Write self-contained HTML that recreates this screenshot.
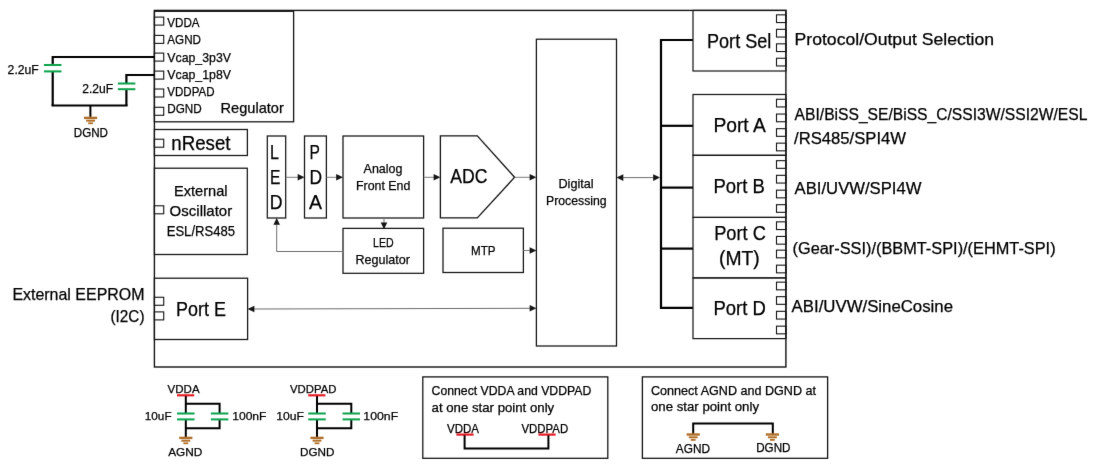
<!DOCTYPE html>
<html lang="en">
<head>
<meta charset="utf-8">
<title>Encoder IC block diagram</title>
<style>
html, body { margin: 0; padding: 0; background: #ffffff; }
body { width: 1100px; height: 470px; overflow: hidden; }
svg { display: block; font-family: 'Liberation Sans', Arial, sans-serif; }
svg text { font-family: 'Liberation Sans', Arial, sans-serif; }
</style>
</head>
<body>
<svg width="1100" height="470" viewBox="0 0 1100 470" role="img" aria-label="Encoder IC block diagram">
<defs><filter id="soft" x="0" y="0" width="1100" height="470" filterUnits="userSpaceOnUse"><feConvolveMatrix order="3" kernelMatrix="0 1 0 1 12 1 0 1 0" divisor="16" edgeMode="duplicate" preserveAlpha="false"/></filter></defs>
<rect x="0" y="0" width="1100" height="470" fill="#ffffff"/>
<g filter="url(#soft)">
<rect x="154.4" y="10.4" width="631.5" height="356.6" fill="none" stroke="#141414" stroke-width="1.4"/>
<rect x="154.4" y="11.3" width="139.2" height="110.5" fill="none" stroke="#141414" stroke-width="1.3"/>
<rect x="154.4" y="17.1" width="9.3" height="8.0" fill="none" stroke="#141414" stroke-width="1.1"/>
<rect x="154.4" y="35.4" width="9.3" height="8.0" fill="none" stroke="#141414" stroke-width="1.1"/>
<rect x="154.4" y="53.1" width="9.3" height="8.0" fill="none" stroke="#141414" stroke-width="1.1"/>
<rect x="154.4" y="71.1" width="9.3" height="8.0" fill="none" stroke="#141414" stroke-width="1.1"/>
<rect x="154.4" y="89.0" width="9.3" height="8.0" fill="none" stroke="#141414" stroke-width="1.1"/>
<rect x="154.4" y="107.3" width="9.3" height="8.0" fill="none" stroke="#141414" stroke-width="1.1"/>
<text x="167.3" y="27.2" font-size="13.0" textLength="32.3" lengthAdjust="spacingAndGlyphs" fill="#000" stroke="#000" stroke-width="0.25">VDDA</text>
<text x="167.3" y="44.4" font-size="13.0" textLength="33.7" lengthAdjust="spacingAndGlyphs" fill="#000" stroke="#000" stroke-width="0.25">AGND</text>
<text x="167.3" y="61.5" font-size="13.0" textLength="63.7" lengthAdjust="spacingAndGlyphs" fill="#000" stroke="#000" stroke-width="0.25">Vcap_3p3V</text>
<text x="167.3" y="78.5" font-size="13.0" textLength="63.7" lengthAdjust="spacingAndGlyphs" fill="#000" stroke="#000" stroke-width="0.25">Vcap_1p8V</text>
<text x="167.3" y="95.7" font-size="13.0" textLength="47.2" lengthAdjust="spacingAndGlyphs" fill="#000" stroke="#000" stroke-width="0.25">VDDPAD</text>
<text x="167.3" y="112.7" font-size="13.0" textLength="34.5" lengthAdjust="spacingAndGlyphs" fill="#000" stroke="#000" stroke-width="0.25">DGND</text>
<text x="220.6" y="113.1" font-size="14.4" textLength="63.2" lengthAdjust="spacingAndGlyphs" fill="#000" stroke="#000" stroke-width="0.25">Regulator</text>
<polyline points="154.4,57.0 52.7,57.0 52.7,65.0" fill="none" stroke="#000" stroke-width="2.2" stroke-linejoin="miter"/>
<line x1="52.7" y1="71.5" x2="52.7" y2="105.5" stroke="#000" stroke-width="2.2" stroke-linecap="butt"/>
<polyline points="154.4,75.0 126.4,75.0 126.4,83.4" fill="none" stroke="#000" stroke-width="2.2" stroke-linejoin="miter"/>
<line x1="126.4" y1="89.3" x2="126.4" y2="105.5" stroke="#000" stroke-width="2.2" stroke-linecap="butt"/>
<line x1="51.5" y1="105.5" x2="127.6" y2="105.5" stroke="#000" stroke-width="2.2" stroke-linecap="butt"/>
<line x1="90.4" y1="105.5" x2="90.4" y2="117.4" stroke="#000" stroke-width="2.0" stroke-linecap="butt"/>
<line x1="43.95" y1="65.0" x2="61.45" y2="65.0" stroke="#0aa14b" stroke-width="2.0" stroke-linecap="butt"/>
<line x1="43.95" y1="71.4" x2="61.45" y2="71.4" stroke="#0aa14b" stroke-width="2.0" stroke-linecap="butt"/>
<line x1="117.85" y1="83.5" x2="135.35" y2="83.5" stroke="#0aa14b" stroke-width="2.0" stroke-linecap="butt"/>
<line x1="117.85" y1="89.2" x2="135.35" y2="89.2" stroke="#0aa14b" stroke-width="2.0" stroke-linecap="butt"/>
<line x1="84.0" y1="117.89999999999999" x2="97.19999999999999" y2="117.89999999999999" stroke="#b0702c" stroke-width="2.4" stroke-linecap="butt"/>
<line x1="86.19999999999999" y1="120.69999999999999" x2="95.0" y2="120.69999999999999" stroke="#b0702c" stroke-width="2.0" stroke-linecap="butt"/>
<line x1="88.19999999999999" y1="123.3" x2="93.0" y2="123.3" stroke="#b0702c" stroke-width="1.8" stroke-linecap="butt"/>
<text x="7.6" y="74.1" font-size="12.6" textLength="31.2" lengthAdjust="spacingAndGlyphs" fill="#000" stroke="#000" stroke-width="0.25">2.2uF</text>
<text x="82.2" y="93.2" font-size="12.6" textLength="31.0" lengthAdjust="spacingAndGlyphs" fill="#000" stroke="#000" stroke-width="0.25">2.2uF</text>
<text x="73.8" y="136.5" font-size="12.0" textLength="34.2" lengthAdjust="spacingAndGlyphs" fill="#000" stroke="#000" stroke-width="0.25">DGND</text>
<rect x="154.4" y="129.5" width="93.0" height="26.0" fill="none" stroke="#141414" stroke-width="1.25"/>
<rect x="154.4" y="139.2" width="9.3" height="8.0" fill="none" stroke="#141414" stroke-width="1.1"/>
<text x="171.3" y="150.0" font-size="19.8" textLength="59.2" lengthAdjust="spacingAndGlyphs" fill="#000" stroke="#000" stroke-width="0.25">nReset</text>
<rect x="154.4" y="168.2" width="92.9" height="86.3" fill="none" stroke="#141414" stroke-width="1.25"/>
<rect x="154.4" y="205.8" width="9.3" height="8.0" fill="none" stroke="#141414" stroke-width="1.1"/>
<text x="174.0" y="195.6" font-size="14.8" textLength="53.6" lengthAdjust="spacingAndGlyphs" fill="#000" stroke="#000" stroke-width="0.25">External</text>
<text x="169.6" y="215.6" font-size="14.8" textLength="62.6" lengthAdjust="spacingAndGlyphs" fill="#000" stroke="#000" stroke-width="0.25">Oscillator</text>
<text x="166.7" y="235.5" font-size="14.8" textLength="68.3" lengthAdjust="spacingAndGlyphs" fill="#000" stroke="#000" stroke-width="0.25">ESL/RS485</text>
<rect x="154.4" y="278.2" width="93.2" height="61.3" fill="none" stroke="#141414" stroke-width="1.25"/>
<rect x="154.4" y="297.3" width="9.3" height="8.0" fill="none" stroke="#141414" stroke-width="1.1"/>
<rect x="154.4" y="311.9" width="9.3" height="8.0" fill="none" stroke="#141414" stroke-width="1.1"/>
<text x="176.1" y="315.9" font-size="19.5" textLength="49.8" lengthAdjust="spacingAndGlyphs" fill="#000" stroke="#000" stroke-width="0.25">Port E</text>
<text x="12.4" y="299.6" font-size="16.6" textLength="132.1" lengthAdjust="spacingAndGlyphs" fill="#000" stroke="#000" stroke-width="0.25">External EEPROM</text>
<text x="110.5" y="322.4" font-size="16.6" textLength="34.0" lengthAdjust="spacingAndGlyphs" fill="#000" stroke="#000" stroke-width="0.25">(I2C)</text>
<rect x="267.3" y="136.0" width="18.4" height="82.0" fill="none" stroke="#141414" stroke-width="1.25"/>
<rect x="304.5" y="136.0" width="21.9" height="82.0" fill="none" stroke="#141414" stroke-width="1.25"/>
<text x="270.0" y="158.5" font-size="19.6" textLength="8.9" lengthAdjust="spacingAndGlyphs" fill="#000" stroke="#000" stroke-width="0.25">L</text>
<text x="270.0" y="184.0" font-size="19.6" textLength="10.4" lengthAdjust="spacingAndGlyphs" fill="#000" stroke="#000" stroke-width="0.25">E</text>
<text x="269.8" y="209.2" font-size="19.6" textLength="12.8" lengthAdjust="spacingAndGlyphs" fill="#000" stroke="#000" stroke-width="0.25">D</text>
<text x="309.6" y="158.5" font-size="19.6" textLength="10.4" lengthAdjust="spacingAndGlyphs" fill="#000" stroke="#000" stroke-width="0.25">P</text>
<text x="309.4" y="184.0" font-size="19.6" textLength="12.6" lengthAdjust="spacingAndGlyphs" fill="#000" stroke="#000" stroke-width="0.25">D</text>
<text x="309.0" y="209.2" font-size="19.6" textLength="13.0" lengthAdjust="spacingAndGlyphs" fill="#000" stroke="#000" stroke-width="0.25">A</text>
<rect x="343.0" y="136.0" width="80.6" height="82.0" fill="none" stroke="#141414" stroke-width="1.25"/>
<text x="363.6" y="173.3" font-size="13.4" textLength="38.8" lengthAdjust="spacingAndGlyphs" fill="#000" stroke="#000" stroke-width="0.25">Analog</text>
<text x="356.0" y="190.2" font-size="13.4" textLength="54.4" lengthAdjust="spacingAndGlyphs" fill="#000" stroke="#000" stroke-width="0.25">Front End</text>
<rect x="343.0" y="228.4" width="80.6" height="44.9" fill="none" stroke="#141414" stroke-width="1.25"/>
<text x="373.0" y="247.0" font-size="13.4" textLength="20.6" lengthAdjust="spacingAndGlyphs" fill="#000" stroke="#000" stroke-width="0.25">LED</text>
<text x="355.5" y="263.8" font-size="13.4" textLength="54.5" lengthAdjust="spacingAndGlyphs" fill="#000" stroke="#000" stroke-width="0.25">Regulator</text>
<polyline points="440.4,135.8 477.3,135.8 514.6,177.3 477.3,217.9 440.4,217.9 440.4,135.8 477.3,135.8" fill="none" stroke="#141414" stroke-width="1.3" stroke-linejoin="miter"/>
<text x="450.2" y="183.0" font-size="19.6" textLength="37.2" lengthAdjust="spacingAndGlyphs" fill="#000" stroke="#000" stroke-width="0.25">ADC</text>
<rect x="443.0" y="228.2" width="80.4" height="44.3" fill="none" stroke="#141414" stroke-width="1.25"/>
<text x="471.0" y="255.0" font-size="13.4" textLength="24.5" lengthAdjust="spacingAndGlyphs" fill="#000" stroke="#000" stroke-width="0.25">MTP</text>
<rect x="536.4" y="39.2" width="80.1" height="306.8" fill="none" stroke="#141414" stroke-width="1.25"/>
<text x="558.5" y="188.2" font-size="13.4" textLength="35.1" lengthAdjust="spacingAndGlyphs" fill="#000" stroke="#000" stroke-width="0.25">Digital</text>
<text x="546.0" y="204.9" font-size="13.4" textLength="60.7" lengthAdjust="spacingAndGlyphs" fill="#000" stroke="#000" stroke-width="0.25">Processing</text>
<line x1="285.7" y1="177.3" x2="298.7" y2="177.3" stroke="#6e6e6e" stroke-width="0.9" stroke-linecap="butt"/>
<polygon points="304.5,177.3 297.7,174.0 297.7,180.60000000000002" fill="#141414"/>
<line x1="326.4" y1="177.3" x2="337.2" y2="177.3" stroke="#6e6e6e" stroke-width="0.9" stroke-linecap="butt"/>
<polygon points="343.0,177.3 336.2,174.0 336.2,180.60000000000002" fill="#141414"/>
<line x1="423.6" y1="177.3" x2="434.59999999999997" y2="177.3" stroke="#6e6e6e" stroke-width="0.9" stroke-linecap="butt"/>
<polygon points="440.4,177.3 433.59999999999997,174.0 433.59999999999997,180.60000000000002" fill="#141414"/>
<line x1="514.6" y1="177.3" x2="530.6" y2="177.3" stroke="#6e6e6e" stroke-width="0.9" stroke-linecap="butt"/>
<polygon points="536.4,177.3 529.6,174.0 529.6,180.60000000000002" fill="#141414"/>
<line x1="523.4" y1="250.5" x2="530.6" y2="250.5" stroke="#6e6e6e" stroke-width="0.9" stroke-linecap="butt"/>
<polygon points="536.4,250.5 529.6,247.2 529.6,253.8" fill="#141414"/>
<line x1="384.0" y1="218.0" x2="384.0" y2="223.0" stroke="#6e6e6e" stroke-width="1" stroke-linecap="butt"/>
<polygon points="384.0,229.2 380.7,222.39999999999998 387.3,222.39999999999998" fill="#141414"/>
<polyline points="343.0,251.5 276.7,251.5 276.7,224.0" fill="none" stroke="#6e6e6e" stroke-width="1" stroke-linejoin="miter"/>
<polygon points="276.7,218.0 273.4,224.8 280.0,224.8" fill="#141414"/>
<line x1="253.0" y1="309.0" x2="531.0" y2="308.3" stroke="#6e6e6e" stroke-width="1" stroke-linecap="butt"/>
<polygon points="247.6,309.0 254.4,305.7 254.4,312.3" fill="#141414"/>
<polygon points="536.4,308.3 529.6,305.0 529.6,311.6" fill="#141414"/>
<line x1="622.0" y1="177.6" x2="655.0" y2="177.6" stroke="#6e6e6e" stroke-width="1" stroke-linecap="butt"/>
<polygon points="616.5,177.6 623.3,174.29999999999998 623.3,180.9" fill="#141414"/>
<polygon points="660.0,177.6 653.2,174.29999999999998 653.2,180.9" fill="#141414"/>
<polyline points="693.0,40.0 661.0,40.0 661.0,307.8 693.0,307.8" fill="none" stroke="#000" stroke-width="2.2" stroke-linejoin="miter"/>
<line x1="661.0" y1="125.8" x2="693.0" y2="125.8" stroke="#000" stroke-width="2.2" stroke-linecap="butt"/>
<line x1="661.0" y1="187.6" x2="693.0" y2="187.6" stroke="#000" stroke-width="2.2" stroke-linecap="butt"/>
<line x1="661.0" y1="248.6" x2="693.0" y2="248.6" stroke="#000" stroke-width="2.2" stroke-linecap="butt"/>
<rect x="693.0" y="10.4" width="92.9" height="60.6" fill="none" stroke="#141414" stroke-width="1.2"/>
<rect x="693.0" y="94.5" width="92.9" height="60.8" fill="none" stroke="#141414" stroke-width="1.2"/>
<rect x="693.0" y="155.3" width="92.9" height="62.1" fill="none" stroke="#141414" stroke-width="1.2"/>
<rect x="693.0" y="217.4" width="92.9" height="60.5" fill="none" stroke="#141414" stroke-width="1.2"/>
<rect x="693.0" y="277.9" width="92.9" height="60.7" fill="none" stroke="#141414" stroke-width="1.2"/>
<rect x="776.5" y="14.85" width="9.4" height="7.7" fill="none" stroke="#141414" stroke-width="1.1"/>
<rect x="776.5" y="29.35" width="9.4" height="7.7" fill="none" stroke="#141414" stroke-width="1.1"/>
<rect x="776.5" y="43.85" width="9.4" height="7.7" fill="none" stroke="#141414" stroke-width="1.1"/>
<rect x="776.5" y="58.25" width="9.4" height="7.7" fill="none" stroke="#141414" stroke-width="1.1"/>
<rect x="776.5" y="99.25" width="9.4" height="7.7" fill="none" stroke="#141414" stroke-width="1.1"/>
<rect x="776.5" y="114.05000000000001" width="9.4" height="7.7" fill="none" stroke="#141414" stroke-width="1.1"/>
<rect x="776.5" y="128.65" width="9.4" height="7.7" fill="none" stroke="#141414" stroke-width="1.1"/>
<rect x="776.5" y="143.15" width="9.4" height="7.7" fill="none" stroke="#141414" stroke-width="1.1"/>
<rect x="776.5" y="160.65" width="9.4" height="7.7" fill="none" stroke="#141414" stroke-width="1.1"/>
<rect x="776.5" y="175.35" width="9.4" height="7.7" fill="none" stroke="#141414" stroke-width="1.1"/>
<rect x="776.5" y="190.15" width="9.4" height="7.7" fill="none" stroke="#141414" stroke-width="1.1"/>
<rect x="776.5" y="204.65" width="9.4" height="7.7" fill="none" stroke="#141414" stroke-width="1.1"/>
<rect x="776.5" y="221.85" width="9.4" height="7.7" fill="none" stroke="#141414" stroke-width="1.1"/>
<rect x="776.5" y="236.45000000000002" width="9.4" height="7.7" fill="none" stroke="#141414" stroke-width="1.1"/>
<rect x="776.5" y="250.15" width="9.4" height="7.7" fill="none" stroke="#141414" stroke-width="1.1"/>
<rect x="776.5" y="265.15" width="9.4" height="7.7" fill="none" stroke="#141414" stroke-width="1.1"/>
<rect x="776.5" y="282.15" width="9.4" height="7.7" fill="none" stroke="#141414" stroke-width="1.1"/>
<rect x="776.5" y="296.65" width="9.4" height="7.7" fill="none" stroke="#141414" stroke-width="1.1"/>
<rect x="776.5" y="311.34999999999997" width="9.4" height="7.7" fill="none" stroke="#141414" stroke-width="1.1"/>
<rect x="776.5" y="326.15" width="9.4" height="7.7" fill="none" stroke="#141414" stroke-width="1.1"/>
<text x="707.0" y="47.8" font-size="19.6" textLength="64.3" lengthAdjust="spacingAndGlyphs" fill="#000" stroke="#000" stroke-width="0.25">Port Sel</text>
<text x="713.4" y="132.3" font-size="19.5" textLength="52.4" lengthAdjust="spacingAndGlyphs" fill="#000" stroke="#000" stroke-width="0.25">Port A</text>
<text x="713.4" y="193.3" font-size="19.5" textLength="51.4" lengthAdjust="spacingAndGlyphs" fill="#000" stroke="#000" stroke-width="0.25">Port B</text>
<text x="714.2" y="240.2" font-size="19.5" textLength="51.6" lengthAdjust="spacingAndGlyphs" fill="#000" stroke="#000" stroke-width="0.25">Port C</text>
<text x="719.0" y="265.0" font-size="19.5" textLength="40.8" lengthAdjust="spacingAndGlyphs" fill="#000" stroke="#000" stroke-width="0.25">(MT)</text>
<text x="713.4" y="315.0" font-size="19.5" textLength="52.4" lengthAdjust="spacingAndGlyphs" fill="#000" stroke="#000" stroke-width="0.25">Port D</text>
<text x="794.6" y="44.6" font-size="15.9" textLength="199.5" lengthAdjust="spacingAndGlyphs" fill="#000" stroke="#000" stroke-width="0.25">Protocol/Output Selection</text>
<text x="794.6" y="120.4" font-size="16.0" textLength="292.8" lengthAdjust="spacingAndGlyphs" fill="#000" stroke="#000" stroke-width="0.25">ABI/BiSS_SE/BiSS_C/SSI3W/SSI2W/ESL</text>
<text x="794.0" y="143.7" font-size="16.0" textLength="112.0" lengthAdjust="spacingAndGlyphs" fill="#000" stroke="#000" stroke-width="0.25">/RS485/SPI4W</text>
<text x="794.6" y="194.1" font-size="16.0" textLength="126.9" lengthAdjust="spacingAndGlyphs" fill="#000" stroke="#000" stroke-width="0.25">ABI/UVW/SPI4W</text>
<text x="792.5" y="254.0" font-size="16.0" textLength="263.1" lengthAdjust="spacingAndGlyphs" fill="#000" stroke="#000" stroke-width="0.25">(Gear-SSI)/(BBMT-SPI)/(EHMT-SPI)</text>
<text x="791.6" y="311.6" font-size="16.0" textLength="161.4" lengthAdjust="spacingAndGlyphs" fill="#000" stroke="#000" stroke-width="0.25">ABI/UVW/SineCosine</text>
<line x1="177.00000000000003" y1="395.3" x2="194.20000000000002" y2="395.3" stroke="#e61e28" stroke-width="2.2" stroke-linecap="butt"/>
<line x1="185.8" y1="396.0" x2="185.8" y2="413.0" stroke="#000" stroke-width="2.0" stroke-linecap="butt"/>
<line x1="185.8" y1="420.0" x2="185.8" y2="437.4" stroke="#000" stroke-width="2.0" stroke-linecap="butt"/>
<polyline points="185.8,403.7 219.6,403.7 219.6,413.0" fill="none" stroke="#000" stroke-width="2.0" stroke-linejoin="miter"/>
<polyline points="185.8,428.2 219.6,428.2 219.6,420.0" fill="none" stroke="#000" stroke-width="2.0" stroke-linejoin="miter"/>
<line x1="177.05" y1="413.5" x2="194.55" y2="413.5" stroke="#0aa14b" stroke-width="2.0" stroke-linecap="butt"/>
<line x1="177.05" y1="419.4" x2="194.55" y2="419.4" stroke="#0aa14b" stroke-width="2.0" stroke-linecap="butt"/>
<line x1="210.85" y1="413.5" x2="228.35" y2="413.5" stroke="#0aa14b" stroke-width="2.0" stroke-linecap="butt"/>
<line x1="210.85" y1="419.4" x2="228.35" y2="419.4" stroke="#0aa14b" stroke-width="2.0" stroke-linecap="butt"/>
<line x1="179.20000000000002" y1="437.90000000000003" x2="192.4" y2="437.90000000000003" stroke="#b0702c" stroke-width="2.4" stroke-linecap="butt"/>
<line x1="181.4" y1="440.70000000000005" x2="190.20000000000002" y2="440.70000000000005" stroke="#b0702c" stroke-width="2.0" stroke-linecap="butt"/>
<line x1="183.4" y1="443.3" x2="188.20000000000002" y2="443.3" stroke="#b0702c" stroke-width="1.8" stroke-linecap="butt"/>
<text x="167.6" y="393.4" font-size="11.8" textLength="32.0" lengthAdjust="spacingAndGlyphs" fill="#000" stroke="#000" stroke-width="0.25">VDDA</text>
<text x="168.2" y="455.5" font-size="11.8" textLength="34.2" lengthAdjust="spacingAndGlyphs" fill="#000" stroke="#000" stroke-width="0.25">AGND</text>
<text x="144.8" y="419.5" font-size="11.8" textLength="26.8" lengthAdjust="spacingAndGlyphs" fill="#000" stroke="#000" stroke-width="0.25">10uF</text>
<text x="232.2" y="419.5" font-size="11.8" textLength="34.3" lengthAdjust="spacingAndGlyphs" fill="#000" stroke="#000" stroke-width="0.25">100nF</text>
<line x1="308.2" y1="395.3" x2="325.40000000000003" y2="395.3" stroke="#e61e28" stroke-width="2.2" stroke-linecap="butt"/>
<line x1="317.0" y1="396.0" x2="317.0" y2="413.0" stroke="#000" stroke-width="2.0" stroke-linecap="butt"/>
<line x1="317.0" y1="420.0" x2="317.0" y2="437.4" stroke="#000" stroke-width="2.0" stroke-linecap="butt"/>
<polyline points="317.0,403.7 351.3,403.7 351.3,413.0" fill="none" stroke="#000" stroke-width="2.0" stroke-linejoin="miter"/>
<polyline points="317.0,428.2 351.3,428.2 351.3,420.0" fill="none" stroke="#000" stroke-width="2.0" stroke-linejoin="miter"/>
<line x1="308.25" y1="413.5" x2="325.75" y2="413.5" stroke="#0aa14b" stroke-width="2.0" stroke-linecap="butt"/>
<line x1="308.25" y1="419.4" x2="325.75" y2="419.4" stroke="#0aa14b" stroke-width="2.0" stroke-linecap="butt"/>
<line x1="342.55" y1="413.5" x2="360.05" y2="413.5" stroke="#0aa14b" stroke-width="2.0" stroke-linecap="butt"/>
<line x1="342.55" y1="419.4" x2="360.05" y2="419.4" stroke="#0aa14b" stroke-width="2.0" stroke-linecap="butt"/>
<line x1="310.4" y1="437.90000000000003" x2="323.6" y2="437.90000000000003" stroke="#b0702c" stroke-width="2.4" stroke-linecap="butt"/>
<line x1="312.6" y1="440.70000000000005" x2="321.4" y2="440.70000000000005" stroke="#b0702c" stroke-width="2.0" stroke-linecap="butt"/>
<line x1="314.6" y1="443.3" x2="319.4" y2="443.3" stroke="#b0702c" stroke-width="1.8" stroke-linecap="butt"/>
<text x="290.0" y="393.4" font-size="11.8" textLength="46.4" lengthAdjust="spacingAndGlyphs" fill="#000" stroke="#000" stroke-width="0.25">VDDPAD</text>
<text x="300.0" y="455.5" font-size="11.8" textLength="34.4" lengthAdjust="spacingAndGlyphs" fill="#000" stroke="#000" stroke-width="0.25">DGND</text>
<text x="276.3" y="419.5" font-size="11.8" textLength="27.7" lengthAdjust="spacingAndGlyphs" fill="#000" stroke="#000" stroke-width="0.25">10uF</text>
<text x="363.3" y="419.5" font-size="11.8" textLength="34.9" lengthAdjust="spacingAndGlyphs" fill="#000" stroke="#000" stroke-width="0.25">100nF</text>
<rect x="422.8" y="376.9" width="185.0" height="81.4" fill="none" stroke="#141414" stroke-width="1.3"/>
<text x="431.6" y="394.5" font-size="12.1" textLength="159.7" lengthAdjust="spacingAndGlyphs" fill="#000" stroke="#000" stroke-width="0.25">Connect VDDA and VDDPAD</text>
<text x="431.6" y="411.5" font-size="12.1" textLength="122.6" lengthAdjust="spacingAndGlyphs" fill="#000" stroke="#000" stroke-width="0.25">at one star point only</text>
<text x="447.0" y="432.7" font-size="12.0" textLength="32.0" lengthAdjust="spacingAndGlyphs" fill="#000" stroke="#000" stroke-width="0.25">VDDA</text>
<text x="521.5" y="432.7" font-size="12.0" textLength="46.7" lengthAdjust="spacingAndGlyphs" fill="#000" stroke="#000" stroke-width="0.25">VDDPAD</text>
<line x1="456.4" y1="434.6" x2="473.6" y2="434.6" stroke="#e61e28" stroke-width="2.2" stroke-linecap="butt"/>
<line x1="538.4" y1="434.6" x2="555.6" y2="434.6" stroke="#e61e28" stroke-width="2.2" stroke-linecap="butt"/>
<polyline points="464.6,435.2 464.6,448.6 548.4,448.6 548.4,435.2" fill="none" stroke="#000" stroke-width="2.0" stroke-linejoin="miter"/>
<rect x="642.4" y="376.9" width="185.2" height="81.4" fill="none" stroke="#141414" stroke-width="1.3"/>
<text x="651.0" y="394.6" font-size="12.1" textLength="165.0" lengthAdjust="spacingAndGlyphs" fill="#000" stroke="#000" stroke-width="0.25">Connect AGND and DGND at</text>
<text x="651.0" y="411.1" font-size="12.1" textLength="108.0" lengthAdjust="spacingAndGlyphs" fill="#000" stroke="#000" stroke-width="0.25">one star point only</text>
<polyline points="693.2,434.0 693.2,423.4 772.8,423.4 772.8,434.0" fill="none" stroke="#000" stroke-width="2.0" stroke-linejoin="miter"/>
<line x1="686.6" y1="434.5" x2="699.8000000000001" y2="434.5" stroke="#b0702c" stroke-width="2.4" stroke-linecap="butt"/>
<line x1="688.8000000000001" y1="437.3" x2="697.6" y2="437.3" stroke="#b0702c" stroke-width="2.0" stroke-linecap="butt"/>
<line x1="690.8000000000001" y1="439.9" x2="695.6" y2="439.9" stroke="#b0702c" stroke-width="1.8" stroke-linecap="butt"/>
<line x1="765.8" y1="434.5" x2="779.0" y2="434.5" stroke="#b0702c" stroke-width="2.4" stroke-linecap="butt"/>
<line x1="768.0" y1="437.3" x2="776.8" y2="437.3" stroke="#b0702c" stroke-width="2.0" stroke-linecap="butt"/>
<line x1="770.0" y1="439.9" x2="774.8" y2="439.9" stroke="#b0702c" stroke-width="1.8" stroke-linecap="butt"/>
<text x="675.8" y="452.5" font-size="12.1" textLength="34.2" lengthAdjust="spacingAndGlyphs" fill="#000" stroke="#000" stroke-width="0.25">AGND</text>
<text x="756.2" y="451.9" font-size="12.1" textLength="34.3" lengthAdjust="spacingAndGlyphs" fill="#000" stroke="#000" stroke-width="0.25">DGND</text>
</g>
</svg>
</body>
</html>
